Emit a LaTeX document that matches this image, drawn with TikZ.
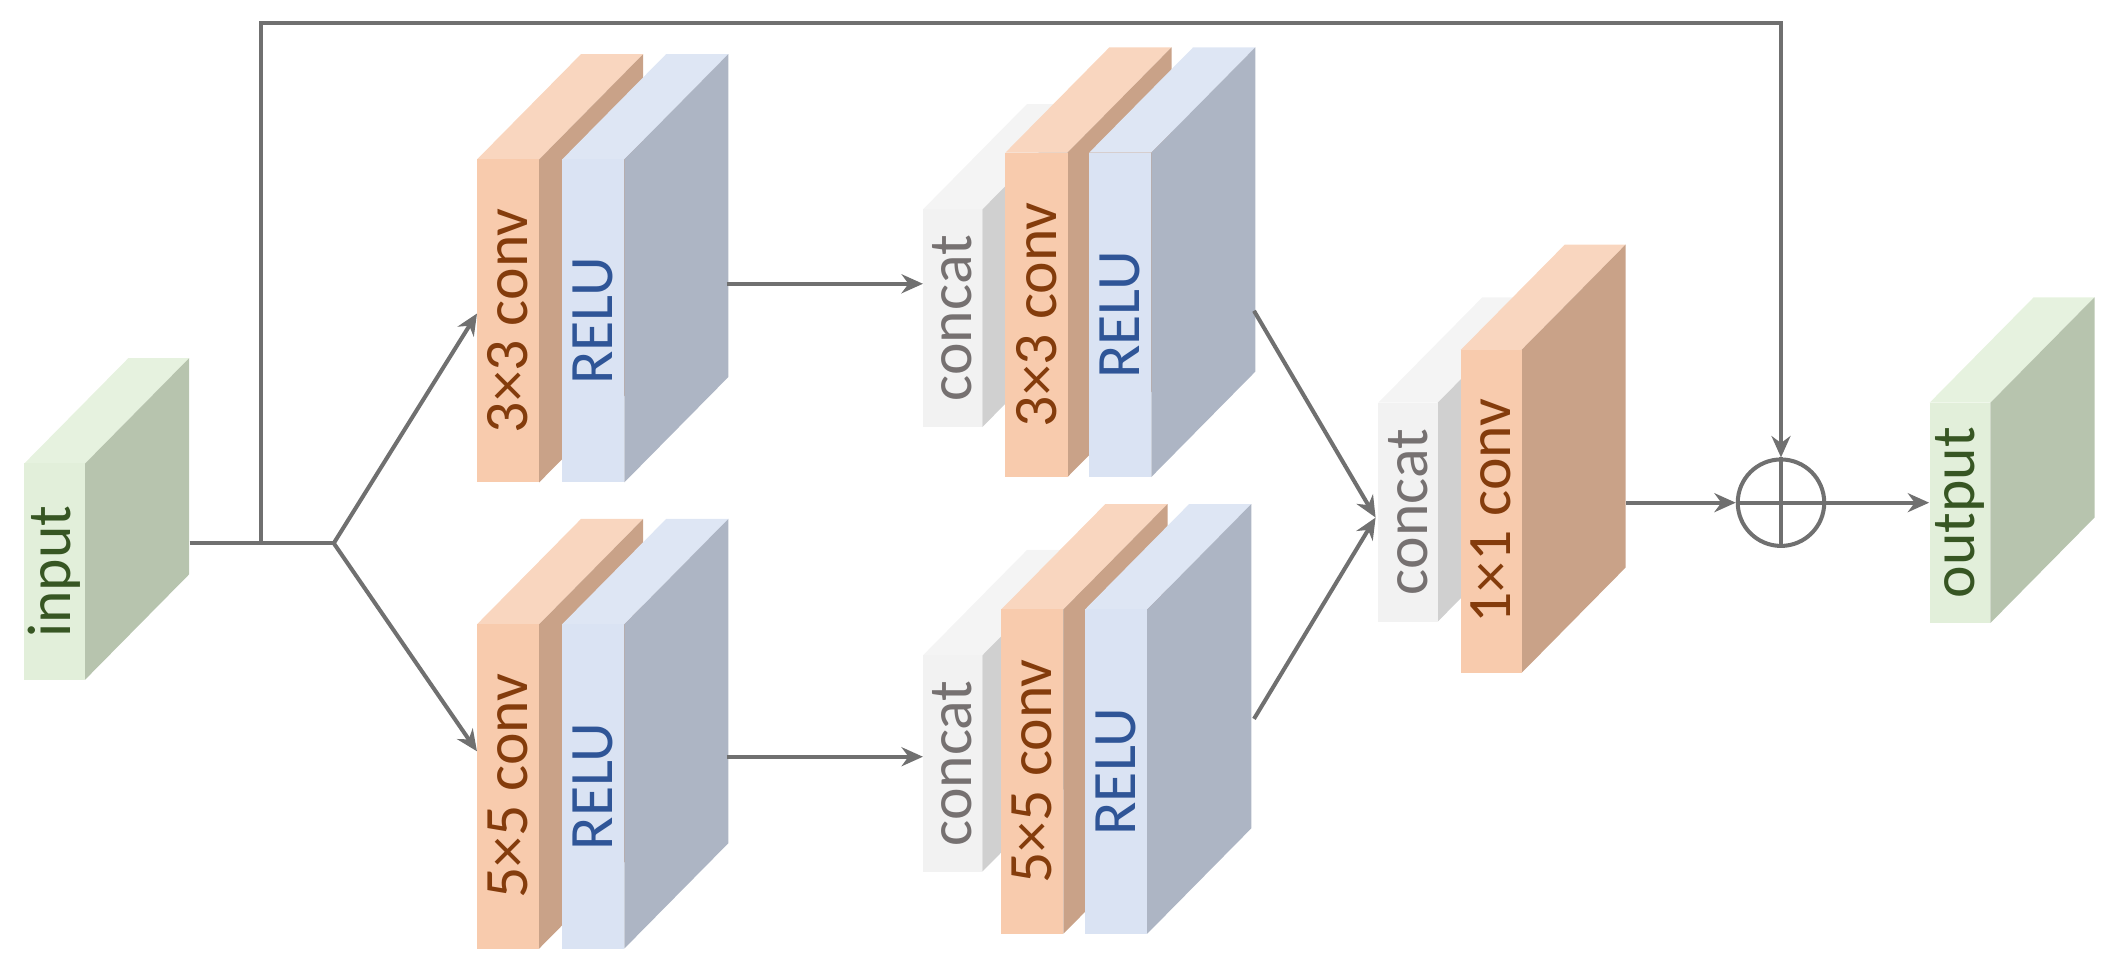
\documentclass[tikz,border=0pt]{standalone}
\usepackage{fontspec}
\setmainfont{Carlito}
\usetikzlibrary{arrows.meta,fit}
\definecolor{ar}{HTML}{707070}
\definecolor{gF}{HTML}{E2EFDA}\definecolor{gS}{HTML}{B7C4AE}\definecolor{gT}{HTML}{E6F2DF}
\definecolor{oF}{HTML}{F8CBAD}\definecolor{oS}{HTML}{C9A288}\definecolor{oT}{HTML}{F9D6BF}
\definecolor{bF}{HTML}{DAE3F3}\definecolor{bS}{HTML}{ADB5C4}\definecolor{bT}{HTML}{DEE6F4}
\definecolor{cF}{HTML}{F2F2F2}\definecolor{cS}{HTML}{D0D0D0}\definecolor{cT}{HTML}{F4F4F4}
\definecolor{tO}{HTML}{843C0C}\definecolor{tB}{HTML}{2F5597}\definecolor{tC}{HTML}{767171}\definecolor{tG}{HTML}{375623}
\tikzset{con/.style={draw=ar,line width=1.7pt,-{Stealth[length=9pt,width=8pt]}},
 lab/.style={rotate=90,font=\fontsize{26}{30}\selectfont}}
% #1 name #2 x1 #3 ytop #4 x2 #5 ybot #6 front #7 side #8 top #9 text
\newcommand\cubeblk[9]{%
 \fill[#8] (#2,#3)--(#2+77,#3-78)--(#4+77,#3-78)--(#4,#3)--cycle;
 \fill[#7] (#4,#3)--(#4+77,#3-78)--(#4+77,#5-78)--(#4,#5)--cycle;
 \fill[#6] (#2,#3) rectangle (#4,#5);
 \node[lab] at ({(#2+#4)/2},{(#3+#5)/2}) {#9};
 \coordinate (#1-a) at (#2,#3-78); \coordinate (#1-b) at (#4+77,#5);
 \node[fit=(#1-a)(#1-b),inner sep=0pt] (#1) {};}
\begin{document}
\begin{tikzpicture}[x=0.02cm,y=-0.02cm]
\useasboundingbox (0,0) rectangle (1560,714);
\cubeblk{in}{18}{343}{63}{503}{gF}{gS}{gT}{\color{tG}input}
\cubeblk{c1}{353}{118}{399}{357}{oF}{oS}{oT}{\color{tO}3×3 conv}
\cubeblk{r1}{416}{118}{462}{357}{bF}{bS}{bT}{\color{tB}RELU}
\cubeblk{c2}{353}{462}{399}{702}{oF}{oS}{oT}{\color{tO}5×5 conv}
\cubeblk{r2}{416}{462}{462}{702}{bF}{bS}{bT}{\color{tB}RELU}
\cubeblk{k1}{683}{155}{727}{316}{cF}{cS}{cT}{\color{tC}concat}
\cubeblk{c3}{744}{113}{790}{353}{oF}{oS}{oT}{\color{tO}3×3 conv}
\cubeblk{r3}{806}{113}{852}{353}{bF}{bS}{bT}{\color{tB}RELU}
\cubeblk{k2}{683}{485}{727}{645}{cF}{cS}{cT}{\color{tC}concat}
\cubeblk{c4}{741}{451}{787}{691}{oF}{oS}{oT}{\color{tO}5×5 conv}
\cubeblk{r4}{803}{451}{849}{691}{bF}{bS}{bT}{\color{tB}RELU}
\cubeblk{k3}{1020}{298}{1064}{460}{cF}{cS}{cT}{\color{tC}concat}
\cubeblk{c5}{1081}{259}{1126}{498}{oF}{oS}{oT}{\color{tO}1×1 conv}
\cubeblk{out}{1428}{298}{1473}{461}{gF}{gS}{gT}{\color{tG}output}
\node[circle,draw=ar,line width=1.7pt,minimum size=64*0.02cm,inner sep=0pt] (plus) at (1318,372) {};
\draw[ar,line width=1.7pt] (plus.north)--(plus.south) (plus.west)--(plus.east);
\coordinate (s) at (193,402); \coordinate (br) at (247,402);
\coordinate (m) at (1018,383);
\draw[ar,line width=1.7pt] (in.east|-s) -- (br);
\draw[con] (br) -- (353,232);
\draw[con] (br) -- (353,556);
\draw[con] (s) -- (193,17) -- (1318,17) -- (plus.north);
\draw[con] (538,210) -- (683,210);
\draw[con] (538,560) -- (683,560);
\draw[con] (928,230) -- (m);
\draw[con] (928,532) -- (m);
\draw[con] (c5.east|-plus) -- (plus.west);
\draw[con] (plus.east) -- (out.west|-plus);
\end{tikzpicture}
\end{document}
